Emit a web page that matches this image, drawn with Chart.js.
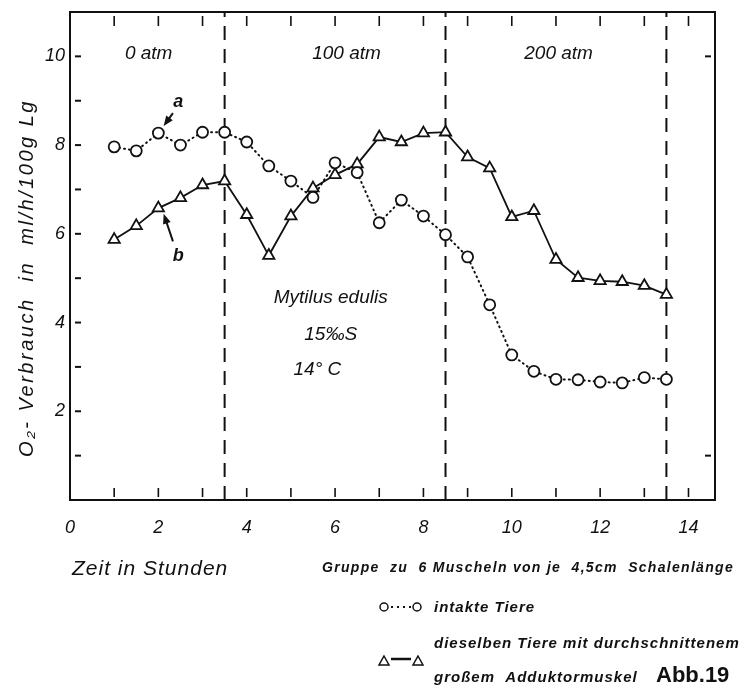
<!DOCTYPE html>
<html><head><meta charset="utf-8">
<script src="https://cdn.jsdelivr.net/npm/chart.js@4.4.1/dist/chart.umd.min.js"></script>
<style>html,body{margin:0;padding:0;background:#fff}#wrap{width:752px;height:687px;position:relative}</style>
</head><body><div id="wrap"><canvas id="c" width="752" height="687"></canvas></div>
<script>
// ---- data ----
const hours = [1,1.5,2,2.5,3,3.5,4,4.5,5,5.5,6,6.5,7,7.5,8,8.5,9,9.5,10,10.5,11,11.5,12,12.5,13,13.5];
const intakteTiere = [7.96,7.87,8.27,8.0,8.29,8.29,8.07,7.53,7.19,6.82,7.6,7.38,6.25,6.76,6.40,5.98,5.48,4.40,3.27,2.90,2.72,2.71,2.66,2.64,2.76,2.72];
const durchschnitten = [5.87,6.18,6.58,6.81,7.10,7.19,6.43,5.51,6.40,7.03,7.33,7.57,8.18,8.07,8.27,8.29,7.73,7.48,6.38,6.52,5.42,5.01,4.94,4.92,4.83,4.63];
const pressureDividers = [3.5, 8.5, 13.5];
const pressureLabels = ["0 atm", "100 atm", "200 atm"];
const xTickLabels = [0,2,4,6,8,10,12,14];
const yTickLabels = [2,4,6,8,10];
const xMinorTicks = [1,2,3,4,5,6,7,8,9,10,11,12,13,14];
const yMinorTicks = [1,2,3,4,5,6,7,8,9,10];
const yRightTicks = [1,10];

const INK = '#111';
const FONT = '"Liberation Sans", Arial, sans-serif';

function pts(ys){ return hours.map((h,i)=>({x:h,y:ys[i]})); }

const datasets = [
  {label:'a', data: pts(intakteTiere), borderColor:INK, borderWidth:2, borderDash:[1,4], borderCapStyle:'round',
   pointStyle:'circle', pointRadius:5.5, pointBackgroundColor:'#fff', pointBorderColor:INK, pointBorderWidth:1.8, tension:0},
  {label:'b', data: pts(durchschnitten), borderColor:INK, borderWidth:1.8,
   pointStyle:'triangle', pointRadius:6.5, pointBackgroundColor:'#fff', pointBorderColor:INK, pointBorderWidth:1.8, tension:0}
];
pressureDividers.forEach(d=>{
  datasets.push({label:'p'+d, data:[{x:d,y:0},{x:d,y:11}], borderColor:INK, borderWidth:2, borderDash:[14,9], pointRadius:0});
});

function spaced(ctx, px){ try{ ctx.letterSpacing = px+'px'; }catch(e){} }

const decor = {
  id:'decor',
  afterDraw(chart){
    const ctx = chart.ctx, ca = chart.chartArea, xs = chart.scales.x, ys = chart.scales.y;
    ctx.save();
    ctx.strokeStyle = INK; ctx.lineWidth = 2;
    ctx.strokeRect(ca.left, ca.top, ca.right-ca.left, ca.bottom-ca.top);
    // inner ticks
    ctx.lineWidth = 1.6;
    xMinorTicks.forEach(v=>{
      const px = xs.getPixelForValue(v);
      ctx.beginPath(); ctx.moveTo(px, ca.top+4); ctx.lineTo(px, ca.top+14); ctx.stroke();
      ctx.beginPath(); ctx.moveTo(px, ca.bottom-3); ctx.lineTo(px, ca.bottom-12); ctx.stroke();
    });
    ctx.lineWidth = 2;
    yMinorTicks.forEach(v=>{
      const py = ys.getPixelForValue(v);
      ctx.beginPath(); ctx.moveTo(ca.left+5, py); ctx.lineTo(ca.left+11, py); ctx.stroke();
    });
    yRightTicks.forEach(v=>{
      const py = ys.getPixelForValue(v);
      ctx.beginPath(); ctx.moveTo(ca.right-4, py); ctx.lineTo(ca.right-10, py); ctx.stroke();
    });
    ctx.fillStyle = INK;
    // pressure labels
    ctx.font = 'italic 19px '+FONT; ctx.textAlign='center'; ctx.textBaseline='middle';
    const centers = [1.78, 6.26, 11.06];
    pressureLabels.forEach((t,i)=> ctx.fillText(t, xs.getPixelForValue(centers[i]), ys.getPixelForValue(10.05)));
    // species text
    ctx.fillText('Mytilus edulis', xs.getPixelForValue(5.9), ys.getPixelForValue(4.55));
    ctx.fillText('15‰S', xs.getPixelForValue(5.9), ys.getPixelForValue(3.73));
    ctx.fillText('14° C', xs.getPixelForValue(5.6), ys.getPixelForValue(2.94));
    // a / b labels with arrows
    ctx.font = 'italic bold 18px '+FONT;
    ctx.fillText('a', xs.getPixelForValue(2.45), ys.getPixelForValue(8.97));
    ctx.fillText('b', xs.getPixelForValue(2.45), ys.getPixelForValue(5.5));
    function arrow(x1,y1,x2,y2){
      const ax=xs.getPixelForValue(x1), ay=ys.getPixelForValue(y1), bx=xs.getPixelForValue(x2), by=ys.getPixelForValue(y2);
      const ang=Math.atan2(by-ay,bx-ax);
      ctx.lineWidth=2; ctx.beginPath(); ctx.moveTo(ax,ay); ctx.lineTo(bx-6*Math.cos(ang),by-6*Math.sin(ang)); ctx.stroke();
      ctx.beginPath(); ctx.moveTo(bx,by);
      ctx.lineTo(bx-10*Math.cos(ang)+4*Math.sin(ang), by-10*Math.sin(ang)-4*Math.cos(ang));
      ctx.lineTo(bx-10*Math.cos(ang)-4*Math.sin(ang), by-10*Math.sin(ang)+4*Math.cos(ang));
      ctx.closePath(); ctx.fill();
    }
    arrow(2.33,8.72, 2.12,8.43);
    arrow(2.33,5.83, 2.12,6.45);
    // y-axis title
    ctx.save();
    ctx.translate(27, 278); ctx.rotate(-Math.PI/2);
    ctx.font = 'italic 20px '+FONT; ctx.textAlign='center'; ctx.textBaseline='middle';
    spaced(ctx, 2.5);
    ctx.fillText('O₂- Verbrauch  in  ml/h/100g Lg', 0, 0);
    ctx.restore();
    // bottom texts
    ctx.textAlign='left'; ctx.textBaseline='alphabetic';
    ctx.font = 'italic 21px '+FONT; spaced(ctx, 1);
    ctx.fillText('Zeit in Stunden', 72, 575);
    ctx.font = 'italic bold 14px '+FONT; spaced(ctx, 1.3);
    ctx.fillText('Gruppe  zu  6 Muscheln von je  4,5cm  Schalenlänge', 322, 572);
    ctx.font = 'italic bold 15px '+FONT; spaced(ctx, 1);
    ctx.fillText('intakte Tiere', 434, 612);
    ctx.fillText('dieselben Tiere mit durchschnittenem', 434, 648);
    ctx.fillText('großem  Adduktormuskel', 434, 682);
    spaced(ctx, 0);
    ctx.font = 'bold 22px '+FONT;
    ctx.fillText('Abb.19', 656, 682);
    // legend symbols
    ctx.lineWidth = 1.5;
    ctx.beginPath(); ctx.arc(384,607,4,0,Math.PI*2); ctx.stroke();
    ctx.beginPath(); ctx.arc(417,607,4,0,Math.PI*2); ctx.stroke();
    ctx.fillRect(391,606,2,2); ctx.fillRect(397,606,2,2); ctx.fillRect(403,606,2,2); ctx.fillRect(409,606,2,2);
    function tri(cx,cy){ ctx.beginPath(); ctx.moveTo(cx,cy-5); ctx.lineTo(cx+5,cy+4); ctx.lineTo(cx-5,cy+4); ctx.closePath(); ctx.stroke(); }
    tri(384,661); tri(418,661);
    ctx.lineWidth=2.5; ctx.beginPath(); ctx.moveTo(391,659); ctx.lineTo(411,659); ctx.stroke();
    ctx.restore();
  }
};

new Chart(document.getElementById('c'), {
  type:'line',
  data:{datasets},
  options:{
    responsive:false, animation:false, events:[],
    layout:{padding:{top:0, right:37, left:0, bottom:0}},
    plugins:{legend:{display:false}, tooltip:{enabled:false}},
    scales:{
      x:{type:'linear', min:0, max:14.6,
         afterBuildTicks(s){ s.ticks = xTickLabels.map(v=>({value:v})); },
         afterFit(s){ s.height = 187; s.paddingLeft = 0; s.paddingRight = 0; },
         grid:{display:true, drawOnChartArea:false, drawTicks:false},
         border:{display:true, color:INK, width:2},
         ticks:{color:INK, font:{family:FONT, size:18, style:'italic'}, padding:17, maxRotation:0}},
      y:{type:'linear', min:0, max:11,
         afterBuildTicks(s){ s.ticks = yTickLabels.map(v=>({value:v})); },
         afterFit(s){ s.width = 70; s.paddingTop = 12; s.paddingBottom = 0; },
         grid:{display:true, drawOnChartArea:false, drawTicks:false},
         border:{display:true, color:INK, width:2},
         ticks:{color:INK, font:{family:FONT, size:18, style:'italic'}, padding:5}}
    }
  },
  plugins:[decor]
});
</script></body></html>
